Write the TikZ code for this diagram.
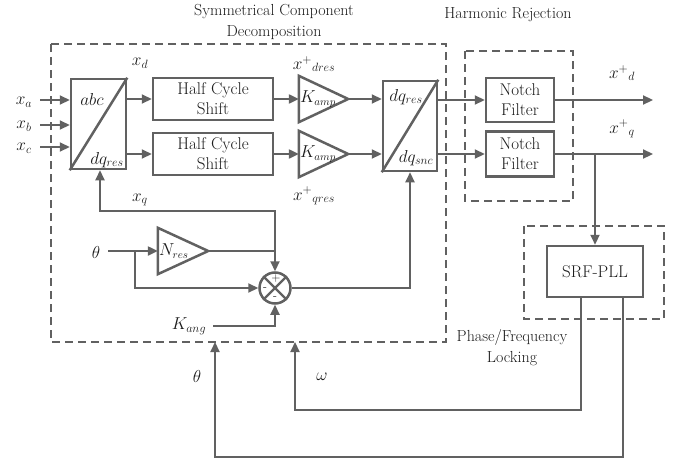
\documentclass[tikz,border=0pt]{standalone}
\usetikzlibrary{arrows.meta,calc}
\definecolor{ln}{HTML}{616161}
\definecolor{tx}{HTML}{1c1c1c}
\tikzset{
 conn/.style={draw=ln, line width=2.2pt, -{Triangle[length=10pt,width=9pt]}},
 wire/.style={draw=ln, line width=2.2pt},
 blk/.style={draw=ln, line width=2.5pt, rectangle, inner sep=0pt, align=center, text=tx, font=\fontsize{17}{20}\selectfont},
 edge2/.style={draw=ln, line width=2.5pt, line join=miter},
 grp/.style={draw=ln, line width=1.5pt, dash pattern=on 8pt off 5pt},
 lbl/.style={text=tx, font=\fontsize{17}{20}\selectfont, inner sep=0pt},
 klbl/.style={text=tx, font=\fontsize{16}{20}\selectfont, inner sep=0pt, anchor=west},
 sgn/.style={text=tx, font=\fontsize{12}{12}\selectfont, inner sep=0pt},
 ttl/.style={text=tx, font=\fontsize{16}{21}\selectfont, align=center, inner sep=0pt},
 ampbox/.style={inner sep=0pt, minimum width=49pt, minimum height=46pt},
}
\begin{document}
\begin{tikzpicture}[x=1pt,y=-1pt]
\useasboundingbox (0,0) rectangle (679,460);
% group frames
\draw[grp] (51,44) rectangle (446,342);
\draw[grp] (465,51) rectangle (573,201);
\draw[grp] (524,226) rectangle (664,319);
\node[ttl] (t1) at (274,22) {Symmetrical Component\\Decomposition};
\node[ttl] (t2) at (508,15) {Harmonic Rejection};
\node[ttl] (t3) at (512,348) {Phase/Frequency\\Locking};

% abc / dq block
\node[blk, minimum width=55pt, minimum height=90pt] (abc) at (98.5,124) {};
\draw[edge2] (abc.south west) -- (abc.north east);
\node[lbl] (abct) at (92,99) {$abc$};
\node[lbl] (abcb) at (107,160) {$dq_{res}$};

% half cycle shifts
\node[blk, minimum width=120pt, minimum height=42pt] (hcs1) at (213,99) {Half Cycle\\Shift};
\node[blk, minimum width=120pt, minimum height=42pt] (hcs2) at (213,154) {Half Cycle\\Shift};

% amplifiers
\node[ampbox] (k1) at (323.5,99) {};
\draw[edge2] (k1.north west) -- (k1.east) -- (k1.south west) -- cycle;
\node[klbl] (k1t) at ([xshift=1pt]k1.west) {$K_{amp}$};
\node[ampbox] (k2) at (323.5,154) {};
\draw[edge2] (k2.north west) -- (k2.east) -- (k2.south west) -- cycle;
\node[klbl] (k2t) at ([xshift=1pt]k2.west) {$K_{amp}$};

% dq res / dq snc block
\node[blk, minimum width=54pt, minimum height=90pt] (dq) at (410,126) {};
\draw[edge2] (dq.south west) -- (dq.north east);
\node[lbl] (dqt) at (406,97) {$dq_{res}$};
\node[lbl] (dqb) at (416,158) {$dq_{snc}$};

% notch filters
\node[blk, minimum width=68pt, minimum height=44pt] (n1) at (520,100) {Notch\\Filter};
\node[blk, minimum width=68pt, minimum height=45pt] (n2) at (520,154) {Notch\\Filter};

% PLL
\node[blk, minimum width=96pt, minimum height=51pt] (pll) at (595,271.5) {SRF-PLL};

% N_res
\node[ampbox, minimum width=50pt] (nr) at (183,251) {};
\draw[edge2] (nr.north west) -- (nr.east) -- (nr.south west) -- cycle;
\node[klbl] (nrt) at ([xshift=1pt]nr.west) {$N_{res}$};

% summing junction
\node[circle, draw=ln, line width=2.5pt, minimum size=31pt, inner sep=0pt] (sum) at (275,288) {};
\draw[edge2, line width=2.2pt] (sum.north west) -- (sum.south east);
\draw[edge2, line width=2.2pt] (sum.north east) -- (sum.south west);
\node[sgn] (sp) at (276,279) {+};
\node[sgn] (sl) at (265,289) {-};
\node[sgn] (sb) at (275,298) {-};

% inputs
\coordinate (ia) at (40,100);
\coordinate (ib) at (40,125);
\coordinate (ic) at (40,147);
\draw[conn] (ia) -- (ia -| abc.west);
\draw[conn] (ib) -- (ib -| abc.west);
\draw[conn] (ic) -- (ic -| abc.west);
\node[lbl] (la) at (24,102) {$x_a$};
\node[lbl] (lb) at (24,126) {$x_b$};
\node[lbl] (lc) at (24,148) {$x_c$};

% forward path
\draw[conn] (abc.east |- hcs1) -- (hcs1.west);
\draw[conn] (abc.east |- hcs2) -- (hcs2.west);
\draw[conn] (hcs1.east) -- (k1.west);
\draw[conn] (hcs2.east) -- (k2.west);
\draw[conn] (k1.east) -- (dq.west |- k1.east);
\draw[conn] (k2.east) -- (dq.west |- k2.east);
\draw[conn] (dq.east |- n1.west) -- (n1.west);
\draw[conn] (dq.east |- n2.west) -- (n2.west);
\coordinate (od) at (653,100);
\coordinate (oq) at (653,154);
\draw[conn] (n1.east) -- (od);
\draw[conn] (n2.east) -- (oq);
\draw[conn] (pll.north |- n2.east) -- (pll.north);

% labels
\node[lbl] (lxd) at (140,63) {$x_d$};
\node[lbl] (lxq) at (140,200) {$x_q$};
\node[lbl] (lxdr) at (314,64) {$x^{+}{}_{dres}$};
\node[lbl] (lxqr) at (314,196) {$x^{+}{}_{qres}$};
\node[lbl] (lxdp) at (622,73) {$x^{+}{}_{d}$};
\node[lbl] (lxqp) at (622,129) {$x^{+}{}_{q}$};

% angle path
\coordinate (thin) at (108,251);
\coordinate (tb) at (135,251);
\node[lbl] (lth) at (96,252) {$\theta$};
\draw[conn] (thin) -- (nr.west);
\draw[conn] (tb) |- (sum.west);
\draw[wire] (nr.east) -- (nr.east -| sum.north) coordinate (jn);
\draw[conn] (jn) -- (sum.north);
\draw[conn] (jn) -- (jn |- 0,211) -| ([xshift=1.5pt]abc.south);
\coordinate (ka) at (213,326);
\node[lbl] (lka) at (189,326) {$K_{ang}$};
\draw[conn] (ka) -| (sum.south);
\draw[conn] (sum.east) -| (dq.south);

% feedback from PLL
\coordinate (om) at (295,342);
\coordinate (thf) at (215,342);
\draw[conn] ([xshift=-14pt]pll.south) -- ++(0,112) -| (om);
\draw[conn] ([xshift=28pt]pll.south) -- ++(0,159) -| (thf);
\node[lbl] (lthb) at (197,376) {$\theta$};
\node[lbl] (lom) at (322,377) {$\omega$};
\end{tikzpicture}
\end{document}
